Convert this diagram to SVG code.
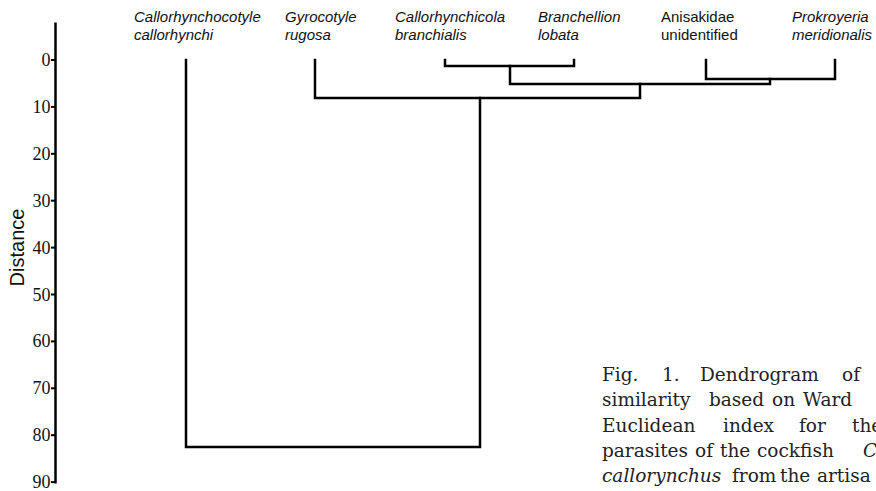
<svg xmlns="http://www.w3.org/2000/svg" width="876" height="491" viewBox="0 0 876 491">
<style>
.sp{font-family:"Liberation Sans",Arial,sans-serif;font-size:15px;fill:#111;font-style:italic}
.up{font-style:normal}
.num{font-family:"Liberation Serif","Times New Roman",serif;font-size:18px;fill:#111;text-anchor:end}
.ln{fill:none;stroke:#000;stroke-width:2.5;stroke-linejoin:miter;stroke-linecap:square}
.tk{stroke:#000;stroke-width:2}
.cap{font-family:"DejaVu Serif",serif;font-size:18.5px;fill:#222}
.it{font-style:italic}
</style>
<rect width="876" height="491" fill="#fff"/>
<g id="axis">
<line x1="55.5" y1="22.5" x2="55.5" y2="483.5" stroke="#000" stroke-width="2.5"/>
<g class="tk">
<line x1="51" y1="60" x2="55" y2="60"/>
<line x1="51" y1="106.9" x2="55" y2="106.9"/>
<line x1="51" y1="153.8" x2="55" y2="153.8"/>
<line x1="51" y1="200.7" x2="55" y2="200.7"/>
<line x1="51" y1="247.6" x2="55" y2="247.6"/>
<line x1="51" y1="294.5" x2="55" y2="294.5"/>
<line x1="51" y1="341.4" x2="55" y2="341.4"/>
<line x1="51" y1="388.3" x2="55" y2="388.3"/>
<line x1="51" y1="435.2" x2="55" y2="435.2"/>
<line x1="51" y1="482.1" x2="55" y2="482.1"/>
</g>
<text class="num" x="50.5" y="66">0</text>
<text class="num" x="50.5" y="112.9">10</text>
<text class="num" x="50.5" y="159.8">20</text>
<text class="num" x="50.5" y="206.7">30</text>
<text class="num" x="50.5" y="253.6">40</text>
<text class="num" x="50.5" y="300.5">50</text>
<text class="num" x="50.5" y="347.4">60</text>
<text class="num" x="50.5" y="394.3">70</text>
<text class="num" x="50.5" y="441.2">80</text>
<text class="num" x="50.5" y="488.1">90</text>
<text transform="translate(23.5,247.5) rotate(-90)" text-anchor="middle" font-family="Liberation Sans, Arial, sans-serif" font-size="20" fill="#111">Distance</text>
</g>
<g id="connectors">
<path class="ln" d="M186,60 V447 H480 V98"/>
<path class="ln" d="M315,60 V98 H640 V84"/>
<path class="ln" d="M445,60 V66 H574 V60"/>
<path class="ln" d="M510,66 V84 H770 V79"/>
<path class="ln" d="M706,60 V79 H835 V60"/>
</g>
<g id="node-callorhynchocotyle"><text class="sp" x="134" y="22">Callorhynchocotyle</text><text class="sp" x="134" y="40">callorhynchi</text></g>
<g id="node-gyrocotyle"><text class="sp" x="285" y="22">Gyrocotyle</text><text class="sp" x="285" y="40">rugosa</text></g>
<g id="node-callorhynchicola"><text class="sp" x="395" y="22">Callorhynchicola</text><text class="sp" x="395" y="40">branchialis</text></g>
<g id="node-branchellion"><text class="sp" x="538" y="22">Branchellion</text><text class="sp" x="538" y="40">lobata</text></g>
<g id="node-anisakidae"><text class="sp up" x="661" y="22">Anisakidae</text><text class="sp up" x="661" y="40">unidentified</text></g>
<g id="node-prokroyeria"><text class="sp" x="792" y="22">Prokroyeria</text><text class="sp" x="792" y="40">meridionalis</text></g>
<g id="caption" class="cap">
<text y="381"><tspan x="602">Fig.</tspan><tspan x="662">1.</tspan><tspan x="700">Dendrogram</tspan><tspan x="842">of</tspan></text>
<text y="406"><tspan x="602">similarity</tspan><tspan x="709">based</tspan><tspan x="772">on</tspan><tspan x="803">Ward</tspan></text>
<text y="432"><tspan x="602">Euclidean</tspan><tspan x="723">index</tspan><tspan x="799">for</tspan><tspan x="852">the</tspan></text>
<text y="457"><tspan x="602">parasites</tspan><tspan x="695">of</tspan><tspan x="720">the</tspan><tspan x="757">cockfish</tspan><tspan x="863" class="it">C</tspan></text>
<text y="482"><tspan x="602" class="it">callorynchus</tspan><tspan x="732">from</tspan><tspan x="780">the</tspan><tspan x="817">artisa</tspan></text>
</g>
</svg>
